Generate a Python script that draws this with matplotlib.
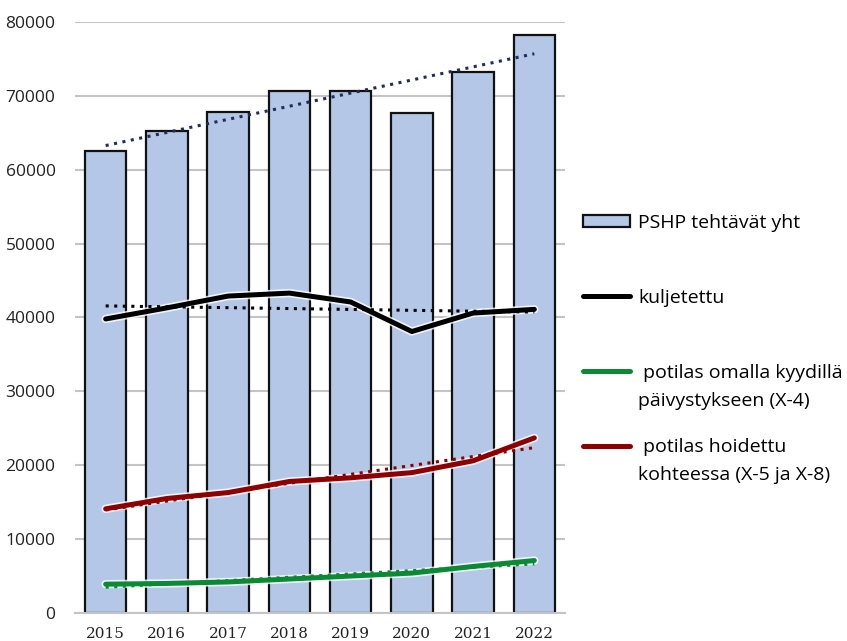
import matplotlib.pyplot as plt
import matplotlib.patheffects as pe
import numpy as np

plt.rcParams.update({'font.size': 12, 'font.family': 'Open Sans'})

years = ['2015', '2016', '2017', '2018', '2019', '2020', '2021', '2022']
tehtavat = [62500, 65300, 67800, 70600, 70600, 67700, 73200, 78200]
kuljetettu = [39800, 41300, 42900, 43300, 42100, 38100, 40600, 41100]
omalla_kyydilla = [3900, 4000, 4200, 4600, 5000, 5400, 6300, 7100]
hoidettu_kohteessa = [14100, 15500, 16300, 17800, 18300, 19000, 20600, 23700]

x = np.arange(len(years))

def trend(vals):
    k, b = np.polyfit(x, vals, 1)
    return k * x + b

glow = [pe.withStroke(linewidth=6, foreground='white', alpha=0.8)]

f, ax = plt.subplots(figsize=(8.47, 6.41), dpi=100, facecolor='white')
f.subplots_adjust(left=0.0886, right=0.667, bottom=0.0437, top=0.9657)

ax.bar(x, tehtavat, width=0.68, color='#b4c7e7', edgecolor='#111111', lw=1.6,
       label='PSHP tehtävät yht', zorder=2)
ax.plot(x, trend(tehtavat), ls=(0, (1, 1.8)), lw=2.2, color='#1f2d5a', zorder=3)

series = [
    (kuljetettu, '#000000', 'kuljetettu'),
    (omalla_kyydilla, '#0b8a36', ' potilas omalla kyydillä'),
    (hoidettu_kohteessa, '#8e0000', ' potilas hoidettu'),
]
for vals, col, lab in series:
    ax.plot(x, vals, color=col, lw=3.6, label=lab, zorder=4, path_effects=glow,
            solid_capstyle='round')
    ax.plot(x, trend(vals), ls=(0, (1, 1.8)), lw=2.2, color=col, zorder=5)

ax.set_xlim(-0.5, 7.5)
ax.set_ylim(0, 80000)
ax.set_yticks(range(0, 80001, 10000))
ax.set_xticks(x)
ax.set_xticklabels(years, family='DejaVu Serif', fontsize=11)
ax.tick_params(axis='y', length=0, pad=14, labelsize=12.5, colors='#222222')
ax.tick_params(axis='x', length=0, pad=10, colors='#222222')
ax.grid(axis='y', color='#c4c4c4', lw=1.5, zorder=0)
ax.set_axisbelow(True)
for s in ['top', 'right', 'left']:
    ax.spines[s].set_visible(False)
ax.spines['bottom'].set_color('#c4c4c4')
ax.spines['bottom'].set_linewidth(1.5)

handles, labels = ax.get_legend_handles_labels()
# bar entry first, then the lines
order = [3, 0, 1, 2]
leg = ax.legend([handles[i] for i in order], [labels[i] for i in order],
                loc='upper left', bbox_to_anchor=(583 / 847, 1 - 214 / 641),
                bbox_transform=f.transFigure, frameon=False, borderpad=0,
                borderaxespad=0, labelspacing=2.92, handlelength=2.4,
                handleheight=0.52, handletextpad=0.43, fontsize=14)
for h in leg.legend_handles[1:]:
    h.set_linewidth(3.6)

# second lines of the two long legend labels
f.canvas.draw()
inv = f.transFigure.inverted()
for i, txt in [(2, 'päivystykseen (X-4)'), (3, 'kohteessa (X-5 ja X-8)')]:
    bb = leg.get_texts()[i].get_window_extent()
    px, py = inv.transform((bb.x0, bb.y0 - 28))
    f.text(px, py, txt, fontsize=14, ha='left', va='bottom')

f.savefig('out.png', dpi=100, facecolor='white')
plt.close(f)
